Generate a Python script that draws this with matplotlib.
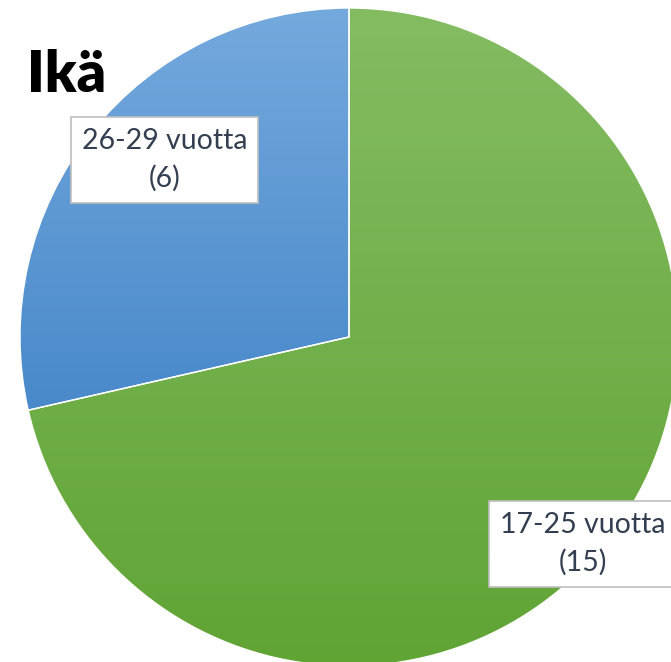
import numpy as np
import matplotlib
matplotlib.use("Agg")
import matplotlib.pyplot as plt
from matplotlib.colors import LinearSegmentedColormap

# data
LABELS = ["17-25 vuotta", "26-29 vuotta"]
COUNTS = [15, 6]
TITLE = "Ikä"

# gradient colours per slice (top -> bottom)
GRADS = [("#84bc62", "#60a434"), ("#74a9dd", "#4989ca")]
TEXT_COL = "#333f50"

W, H = 671, 662
fig = plt.figure(figsize=(W / 100, H / 100), dpi=100)
ax = fig.add_axes([0, 0, 1, 1])

centre = (349, H - 337)
radius = 329
wedges, _ = ax.pie(COUNTS, startangle=90, counterclock=False,
                   center=centre, radius=radius, frame=True,
                   wedgeprops=dict(edgecolor="white", linewidth=1.0))
ax.set_xlim(0, W)
ax.set_ylim(0, H)
ax.set_aspect("equal")
ax.axis("off")

# vertical gradient fill per wedge, clipped to the wedge shape
for w, (c_top, c_bot) in zip(wedges, GRADS):
    verts = w.get_patch_transform().transform(w.get_path().vertices)
    x0, y0 = verts.min(axis=0)
    x1, y1 = verts.max(axis=0)
    cmap = LinearSegmentedColormap.from_list("g", [c_bot, c_top])
    grad = np.linspace(0, 1, 256).reshape(-1, 1)
    im = ax.imshow(grad, cmap=cmap, origin="lower", aspect="auto",
                   extent=(x0, x1, y0, y1), zorder=w.get_zorder() - 0.1,
                   interpolation="bicubic")
    im.set_clip_path(w)
    w.set_facecolor("none")

# data labels
label_pos = [(583, H - 544), (164.5, H - 160)]
for (lx, ly), lab, n in zip(label_pos, LABELS, COUNTS):
    ax.text(lx, ly, f"{lab}\n({n})", ha="center", va="center",
            fontsize=20.5, family="Lato", color=TEXT_COL, linespacing=1.5,
            bbox=dict(boxstyle="square,pad=0.38", facecolor="white",
                      edgecolor="#bfbfbf", linewidth=1.2), zorder=5)

fig.text(27 / W, 1 - 92 / H, TITLE, fontsize=41, family="Lato",
         fontweight="heavy", color="black", ha="left", va="baseline")

fig.savefig("out.png", dpi=100, facecolor="white")
